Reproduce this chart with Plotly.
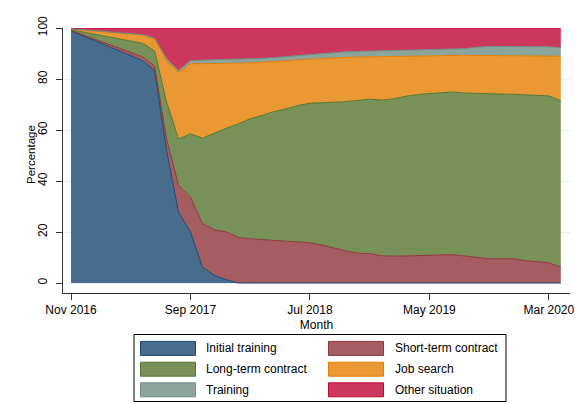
import plotly.graph_objects as go
import pandas as pd

# ---- categories -------------------------------------------------------
months = [p.strftime("%b %Y") for p in pd.period_range("2016-11", "2020-04", freq="M")]
tick_labels = ["Nov 2016", "Sep 2017", "Jul 2018", "May 2019", "Mar 2020"]
y_ticks = [0, 20, 40, 60, 80, 100]

# ---- series values (percent of people in each situation) --------------
initial_training = [98.9, 97.0, 95.0, 93.0, 91.1, 89.2, 87.2, 83.2, 52.0, 27.8,
                    20.0, 6.3, 3.0, 1.3, 0.0, 0.0, 0.0, 0.0, 0.0, 0.0,
                    0.0, 0.0, 0.0, 0.0, 0.0, 0.0, 0.0, 0.0, 0.0, 0.0,
                    0.0, 0.0, 0.0, 0.0, 0.0, 0.0, 0.0, 0.0, 0.0, 0.0,
                    0.0, 0.0]
short_term_contract = [0.2, 0.4, 0.6, 0.8, 1.0, 1.2, 1.5, 1.8, 4.5, 10.5,
                       13.7, 17.0, 17.9, 18.7, 17.9, 17.3, 17.0, 16.7, 16.4, 16.1,
                       15.8, 14.9, 13.7, 12.6, 11.7, 11.5, 10.7, 10.5, 10.6, 10.8,
                       10.9, 11.0, 11.1, 10.5, 9.9, 9.5, 9.5, 9.5, 8.8, 8.4,
                       7.9, 6.3]
long_term_contract = [0.2, 1.0, 1.8, 2.7, 3.5, 4.4, 5.3, 6.0, 14.5, 18.2,
                      24.8, 33.5, 38.0, 40.7, 44.5, 47.1, 48.7, 50.5, 51.9, 53.5,
                      54.7, 55.7, 57.2, 58.5, 60.0, 60.6, 61.0, 61.7, 62.6, 63.1,
                      63.4, 63.6, 63.8, 64.0, 64.4, 64.7, 64.6, 64.5, 65.0, 65.4,
                      65.5, 65.2]
job_search = [0.3, 0.8, 1.4, 1.9, 2.4, 2.8, 3.2, 4.6, 16.2, 26.1,
              27.5, 29.2, 27.1, 25.4, 23.8, 21.9, 20.8, 19.6, 18.8, 17.9,
              17.3, 17.5, 17.5, 17.4, 16.9, 16.6, 17.0, 16.6, 15.7, 15.1,
              14.8, 14.7, 14.5, 14.8, 14.9, 15.0, 15.1, 15.2, 15.3, 15.2,
              15.6, 17.4]
training = [0.1, 0.1, 0.1, 0.1, 0.1, 0.2, 0.2, 0.5, 0.7, 0.7,
            1.2, 1.4, 1.5, 1.5, 1.5, 1.6, 1.6, 1.6, 1.7, 1.6,
            1.6, 1.9, 2.0, 2.2, 2.2, 2.2, 2.3, 2.3, 2.3, 2.3,
            2.3, 2.3, 2.3, 2.6, 3.3, 3.6, 3.6, 3.6, 3.7, 3.7,
            3.6, 3.4]
other_situation = [0.3, 0.7, 1.1, 1.5, 1.9, 2.2, 2.6, 3.9, 12.1, 16.7,
                   12.8, 12.6, 12.5, 12.4, 12.3, 12.1, 11.9, 11.6, 11.2, 10.9,
                   10.6, 10.0, 9.6, 9.3, 9.2, 9.1, 9.0, 8.9, 8.8, 8.7,
                   8.6, 8.4, 8.3, 8.1, 7.5, 7.2, 7.2, 7.2, 7.2, 7.3,
                   7.4, 7.7]

series_names = ["Initial training", "Short-term contract", "Long-term contract",
                "Job search", "Training", "Other situation"]
series_values = [initial_training, short_term_contract, long_term_contract,
                 job_search, training, other_situation]
line_colors = ["#1a476f", "#90353b", "#55752f", "#e37e00", "#6e8e84", "#c10534"]
fill_colors = ["#486c8c", "#a65d62", "#779159", "#e99833", "#8ba59d", "#cd375d"]

W, H = 575, 403
L, R, T, B = 63, 5, 28, 110

fig = go.Figure()
for name, vals, lc, fc in zip(series_names, series_values, line_colors, fill_colors):
    fig.add_trace(go.Scatter(
        x=months, y=vals, name=name, mode="lines",
        stackgroup="one", line=dict(color=lc, width=1),
        fillcolor=fc, showlegend=False,
    ))

font = dict(family="Liberation Sans, Arial, sans-serif", size=12, color="#000")

fig.update_layout(
    width=W, height=H,
    margin=dict(l=L, r=R, t=T, b=B, autoexpand=False),
    paper_bgcolor="white", plot_bgcolor="white",
    font=font,
    xaxis=dict(
        type="category", range=[-0.67, 41.77], automargin=False,
        tickmode="array", tickvals=tick_labels, ticktext=tick_labels,
        ticks="outside", ticklen=6, tickcolor="#333", tickwidth=1,
        showline=True, linecolor="#333", linewidth=1,
        showgrid=False, zeroline=False,
        title=dict(text="Month", font=font, standoff=4),
    ),
    yaxis=dict(
        range=[-3.92, 100], automargin=False, tickmode="array", tickvals=y_ticks,
        ticktext=[str(v) for v in y_ticks], tickangle=-90,
        ticks="outside", ticklen=6, tickcolor="#333", tickwidth=1,
        ticklabelstandoff=4,
        showline=True, linecolor="#333", linewidth=1,
        showgrid=True, gridcolor="#e6eef0", gridwidth=1, zeroline=False,
    ),
)

# ---- legend drawn Stata-style (wide key boxes) -------------------------
pw, ph = W - L - R, H - T - B
def px(x):
    return (x - L) / pw
def py(y):
    return (H - B - y) / ph

shapes = [dict(type="rect", xref="paper", yref="paper",
               x0=px(134), x1=px(506), y0=py(401.5), y1=py(334.5),
               line=dict(color="#000", width=1), fillcolor="white", layer="above")]
annotations = [dict(xref="paper", yref="paper", x=px(31), y=py(155),
                    text="Percentage", textangle=-90, showarrow=False,
                    xanchor="center", yanchor="middle",
                    font=dict(family=font["family"], size=11.5, color="#000"))]
col_x = [(140.5, 195.5, 204), (328.5, 383.5, 393)]
row_y = [348.4, 369.2, 389.8]
for i, (name, lc, fc) in enumerate(zip(series_names, line_colors, fill_colors)):
    r, c = divmod(i, 2)
    x0, x1, tx = col_x[c]
    yc = row_y[r]
    shapes.append(dict(type="rect", xref="paper", yref="paper",
                       x0=px(x0), x1=px(x1), y0=py(yc + 7), y1=py(yc - 7),
                       line=dict(color=lc, width=1), fillcolor=fc, layer="above"))
    annotations.append(dict(xref="paper", yref="paper", x=px(tx), y=py(yc),
                            text=name, showarrow=False, xanchor="left",
                            yanchor="middle", font=font))
fig.update_layout(shapes=shapes, annotations=annotations)

fig.write_html("out.html", config={"displayModeBar": False},
               post_script="document.body.style.margin='0px';document.body.style.overflow='hidden';")
